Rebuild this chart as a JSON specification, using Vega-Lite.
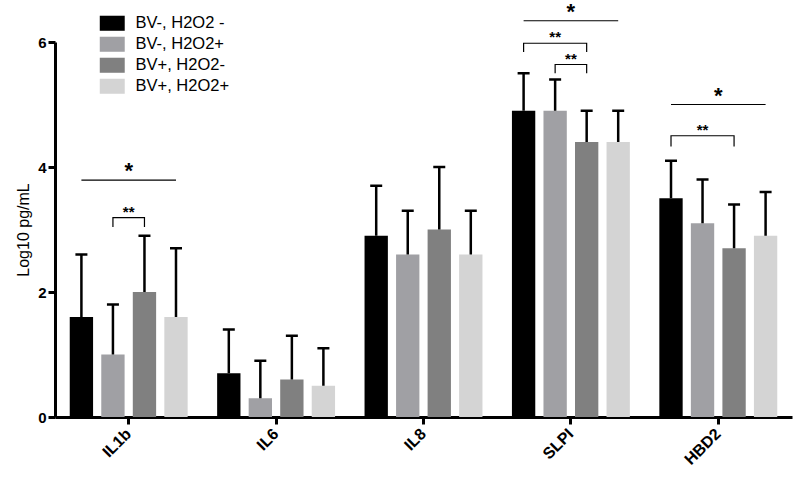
{
  "$schema": "https://vega.github.io/schema/vega-lite/v6.json",
  "width": 737,
  "height": 375,
  "autosize": {"type": "none"},
  "padding": {"left": 55, "top": 42, "right": 8, "bottom": 60},
  "background": "white",
  "config": {
    "view": {"stroke": null},
    "font": "Liberation Sans",
    "axis": {"labelFont": "Liberation Sans", "titleFont": "Liberation Sans", "labelColor": "black", "titleColor": "black", "domainColor": "black", "tickColor": "black"},
    "legend": {"labelFont": "Liberation Sans"}
  },
  "datasets": {
    "bars": [
      {"gene": "IL1b", "group": "BV-, H2O2 -", "mean": 1.6, "upper": 2.6},
      {"gene": "IL1b", "group": "BV-, H2O2+", "mean": 1.0, "upper": 1.8},
      {"gene": "IL1b", "group": "BV+, H2O2-", "mean": 2.0, "upper": 2.9},
      {"gene": "IL1b", "group": "BV+, H2O2+", "mean": 1.6, "upper": 2.7},
      {"gene": "IL6", "group": "BV-, H2O2 -", "mean": 0.7, "upper": 1.4},
      {"gene": "IL6", "group": "BV-, H2O2+", "mean": 0.3, "upper": 0.9},
      {"gene": "IL6", "group": "BV+, H2O2-", "mean": 0.6, "upper": 1.3},
      {"gene": "IL6", "group": "BV+, H2O2+", "mean": 0.5, "upper": 1.1},
      {"gene": "IL8", "group": "BV-, H2O2 -", "mean": 2.9, "upper": 3.7},
      {"gene": "IL8", "group": "BV-, H2O2+", "mean": 2.6, "upper": 3.3},
      {"gene": "IL8", "group": "BV+, H2O2-", "mean": 3.0, "upper": 4.0},
      {"gene": "IL8", "group": "BV+, H2O2+", "mean": 2.6, "upper": 3.3},
      {"gene": "SLPI", "group": "BV-, H2O2 -", "mean": 4.9, "upper": 5.5},
      {"gene": "SLPI", "group": "BV-, H2O2+", "mean": 4.9, "upper": 5.4},
      {"gene": "SLPI", "group": "BV+, H2O2-", "mean": 4.4, "upper": 4.9},
      {"gene": "SLPI", "group": "BV+, H2O2+", "mean": 4.4, "upper": 4.9},
      {"gene": "HBD2", "group": "BV-, H2O2 -", "mean": 3.5, "upper": 4.1},
      {"gene": "HBD2", "group": "BV-, H2O2+", "mean": 3.1, "upper": 3.8},
      {"gene": "HBD2", "group": "BV+, H2O2-", "mean": 2.7, "upper": 3.4},
      {"gene": "HBD2", "group": "BV+, H2O2+", "mean": 2.9, "upper": 3.6}
    ],
    "brackets": [
      {"id": "a", "seq": 1, "gene": "IL1b", "group": "BV-, H2O2 -", "y": 3.79},
      {"id": "a", "seq": 2, "gene": "IL1b", "group": "BV+, H2O2+", "y": 3.79},
      {"id": "b", "seq": 1, "gene": "IL1b", "group": "BV-, H2O2+", "y": 3.04},
      {"id": "b", "seq": 2, "gene": "IL1b", "group": "BV-, H2O2+", "y": 3.19},
      {"id": "b", "seq": 3, "gene": "IL1b", "group": "BV+, H2O2-", "y": 3.19},
      {"id": "b", "seq": 4, "gene": "IL1b", "group": "BV+, H2O2-", "y": 3.04},
      {"id": "c", "seq": 1, "gene": "SLPI", "group": "BV-, H2O2 -", "y": 6.34},
      {"id": "c", "seq": 2, "gene": "SLPI", "group": "BV+, H2O2+", "y": 6.34},
      {"id": "d", "seq": 1, "gene": "SLPI", "group": "BV-, H2O2 -", "y": 5.84},
      {"id": "d", "seq": 2, "gene": "SLPI", "group": "BV-, H2O2 -", "y": 5.98},
      {"id": "d", "seq": 3, "gene": "SLPI", "group": "BV+, H2O2-", "y": 5.98},
      {"id": "d", "seq": 4, "gene": "SLPI", "group": "BV+, H2O2-", "y": 5.84},
      {"id": "e", "seq": 1, "gene": "SLPI", "group": "BV-, H2O2+", "y": 5.5},
      {"id": "e", "seq": 2, "gene": "SLPI", "group": "BV-, H2O2+", "y": 5.64},
      {"id": "e", "seq": 3, "gene": "SLPI", "group": "BV+, H2O2-", "y": 5.64},
      {"id": "e", "seq": 4, "gene": "SLPI", "group": "BV+, H2O2-", "y": 5.5},
      {"id": "f", "seq": 1, "gene": "HBD2", "group": "BV-, H2O2 -", "y": 5.0},
      {"id": "f", "seq": 2, "gene": "HBD2", "group": "BV+, H2O2+", "y": 5.0},
      {"id": "g", "seq": 1, "gene": "HBD2", "group": "BV-, H2O2 -", "y": 4.33},
      {"id": "g", "seq": 2, "gene": "HBD2", "group": "BV-, H2O2 -", "y": 4.5},
      {"id": "g", "seq": 3, "gene": "HBD2", "group": "BV+, H2O2-", "y": 4.5},
      {"id": "g", "seq": 4, "gene": "HBD2", "group": "BV+, H2O2-", "y": 4.33}
    ],
    "stars": [
      {"gene": "IL1b", "pos": "center", "y": 3.79, "label": "*"},
      {"gene": "IL1b", "pos": "center", "y": 3.19, "label": "**"},
      {"gene": "SLPI", "pos": "center", "y": 6.34, "label": "*"},
      {"gene": "SLPI", "pos": "BV-, H2O2+", "y": 5.98, "label": "**"},
      {"gene": "SLPI", "pos": "center", "y": 5.64, "label": "**"},
      {"gene": "HBD2", "pos": "center", "y": 5.0, "label": "*"},
      {"gene": "HBD2", "pos": "BV-, H2O2+", "y": 4.5, "label": "**"}
    ]
  },
  "encoding": {
    "x": {
      "field": "gene", "type": "nominal",
      "scale": {"domain": ["IL1b", "IL6", "IL8", "SLPI", "HBD2"], "paddingInner": 0.2, "paddingOuter": 0.1},
      "axis": {"title": null, "labelAngle": -45, "labelAlign": "right", "labelBaseline": "middle", "labelFontSize": 16, "labelFontWeight": "bold", "labelPadding": 7, "domainWidth": 3, "tickWidth": 3, "tickSize": 7}
    }
  },
  "layer": [
    {
      "data": {"name": "bars"},
      "mark": {"type": "bar"},
      "encoding": {
        "xOffset": {"field": "group", "type": "nominal", "scale": {"domain": ["BV-, H2O2 -", "BV-, H2O2+", "BV+, H2O2-", "BV+, H2O2+"], "paddingInner": 0.26, "paddingOuter": 0}},
        "y": {
          "field": "mean", "type": "quantitative",
          "scale": {"domain": [0, 6], "nice": false},
          "axis": {"title": "Log10 pg/mL", "titleFontSize": 16, "titleFontWeight": "normal", "titlePadding": 6, "values": [0, 2, 4, 6], "format": "d", "labelFontSize": 15, "labelFontWeight": "bold", "labelPadding": 2, "grid": false, "domainWidth": 3, "tickWidth": 3, "tickSize": 7}
        },
        "color": {
          "field": "group", "type": "nominal",
          "scale": {"domain": ["BV-, H2O2 -", "BV-, H2O2+", "BV+, H2O2-", "BV+, H2O2+"], "range": ["#000000", "#a0a0a4", "#808080", "#d4d4d4"]},
          "legend": {"title": null, "orient": "none", "legendX": 49, "legendY": -27, "padding": 0, "symbolType": "M-1.56,-0.94H1.56V0.94H-1.56Z", "symbolSize": 256, "symbolStrokeWidth": 0, "symbolOpacity": 1, "labelFontSize": 16.5, "labelColor": "black", "labelOffset": 15, "rowPadding": 4}
        }
      }
    },
    {
      "data": {"name": "bars"},
      "mark": {"type": "rule", "color": "black", "strokeWidth": 2.5},
      "encoding": {
        "xOffset": {"field": "group", "type": "nominal"},
        "y": {"field": "mean", "type": "quantitative"},
        "y2": {"field": "upper"}
      }
    },
    {
      "data": {"name": "bars"},
      "mark": {"type": "tick", "color": "black", "thickness": 2.5, "size": 12, "orient": "horizontal", "opacity": 1},
      "encoding": {
        "xOffset": {"field": "group", "type": "nominal"},
        "y": {"field": "upper", "type": "quantitative"}
      }
    },
    {
      "data": {"name": "brackets"},
      "mark": {"type": "line", "color": "black", "strokeWidth": 1.2},
      "encoding": {
        "xOffset": {"field": "group", "type": "nominal"},
        "y": {"field": "y", "type": "quantitative"},
        "detail": {"field": "id"},
        "order": {"field": "seq", "type": "quantitative"}
      }
    },
    {
      "data": {"name": "stars"},
      "transform": [{"filter": "datum.pos === 'center' && datum.label === '*'"}],
      "mark": {"type": "text", "font": "Liberation Sans", "fontWeight": "bold", "fontSize": 22, "baseline": "alphabetic", "dy": -2, "color": "black"},
      "encoding": {
        "y": {"field": "y", "type": "quantitative"},
        "text": {"field": "label"}
      }
    },
    {
      "data": {"name": "stars"},
      "transform": [{"filter": "datum.pos === 'center' && datum.label === '**'"}],
      "mark": {"type": "text", "font": "Liberation Sans", "fontWeight": "bold", "fontSize": 15, "baseline": "alphabetic", "dy": -1, "color": "black"},
      "encoding": {
        "y": {"field": "y", "type": "quantitative"},
        "text": {"field": "label"}
      }
    },
    {
      "data": {"name": "stars"},
      "transform": [{"filter": "datum.pos !== 'center'"}],
      "mark": {"type": "text", "font": "Liberation Sans", "fontWeight": "bold", "fontSize": 15, "baseline": "alphabetic", "dy": -1, "color": "black"},
      "encoding": {
        "xOffset": {"field": "pos", "type": "nominal"},
        "y": {"field": "y", "type": "quantitative"},
        "text": {"field": "label"}
      }
    }
  ]
}
